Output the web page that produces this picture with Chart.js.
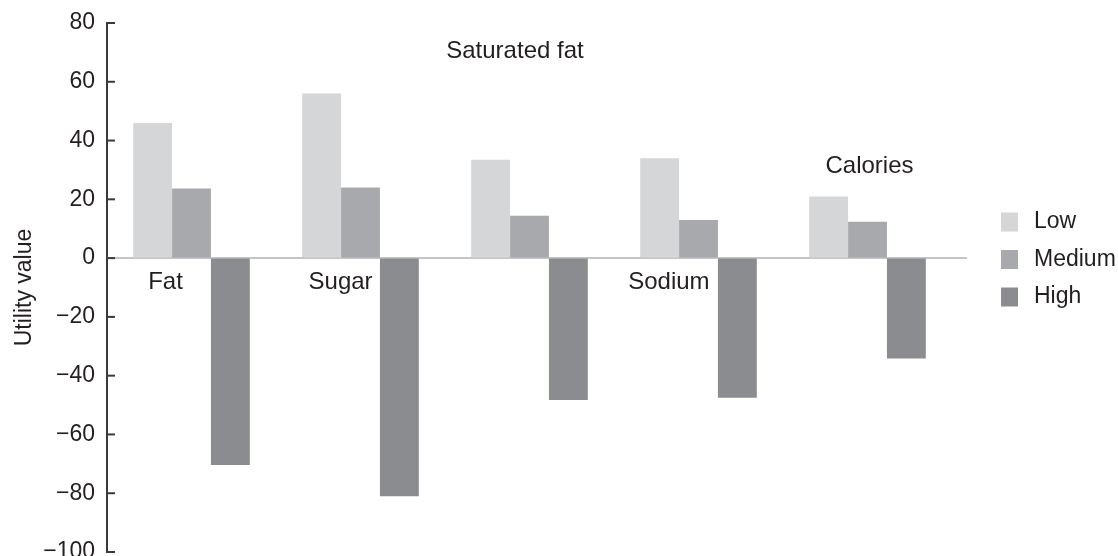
<!DOCTYPE html>
<html lang="en">
    <head>
        <meta charset="UTF-8">
        <title>Utility value by nutrient level</title>
        <script src="https://cdn.jsdelivr.net/npm/chart.js"></script>
        <style>
            html, body { margin: 0; padding: 0; background: #fff; }
            .chart-container { width: 1118px; height: 556px; position: relative; }
        </style>
    </head>
    <body>
        <div class="chart-container">
            <canvas id="utilityChart"></canvas>
        </div>

        <script>
            // nutrients (category labels are drawn inside the plot, as in the figure)
            const nutrients = ['Fat', 'Sugar', 'Saturated fat', 'Sodium', 'Calories'];
            const levels = ['Low', 'Medium', 'High'];

            const lowValues = [46, 56, 33.5, 34, 21];
            const mediumValues = [23.7, 24, 14.4, 13, 12.4];
            const highValues = [-70.4, -81, -48.3, -47.5, -34.2];

            const yTicks = [80, 60, 40, 20, 0, -20, -40, -60, -80, -100];

            // where each nutrient name sits: offset from the group centre (in categories) and a y value
            const nameOffsetX = [-0.154, -0.118, -0.086, -0.175, 0.012];
            const nameValueY = [-8.4, -8.4, 70.2, -8.4, 31.1];

            const levelColors = ['#d5d6d8', '#a7a9ac', '#8b8c90'];
            const textColor = '#231f20';
            const fontFamily = '"Liberation Sans", Arial, Helvetica, sans-serif';

            const seriesValues = [lowValues, mediumValues, highValues];

            // zero line, inward tick marks, nutrient names and legend
            const figureExtras = {
                id: 'figureExtras',
                beforeDatasetsDraw(chart) {
                    const { ctx, chartArea, scales: { y } } = chart;
                    const y0 = y.getPixelForValue(0);
                    ctx.save();
                    ctx.strokeStyle = '#c4c5c7';
                    ctx.lineWidth = 2;
                    ctx.beginPath();
                    ctx.moveTo(chartArea.left, y0);
                    ctx.lineTo(chartArea.right + 15, y0);
                    ctx.stroke();
                    ctx.restore();
                },
                afterDatasetsDraw(chart) {
                    const { ctx, chartArea, scales: { x, y } } = chart;
                    ctx.save();

                    ctx.strokeStyle = '#3a3a3a';
                    ctx.lineWidth = 2;
                    y.ticks.forEach(t => {
                        const py = y.getPixelForValue(t.value);
                        ctx.beginPath();
                        ctx.moveTo(chartArea.left, py);
                        ctx.lineTo(chartArea.left + 8, py);
                        ctx.stroke();
                    });

                    ctx.fillStyle = textColor;
                    ctx.font = '24px ' + fontFamily;
                    ctx.textAlign = 'center';
                    ctx.textBaseline = 'middle';
                    const catWidth = x.getPixelForValue(1) - x.getPixelForValue(0);
                    nutrients.forEach((name, i) => {
                        const px = x.getPixelForValue(i) + nameOffsetX[i] * catWidth;
                        const py = y.getPixelForValue(nameValueY[i]);
                        ctx.fillText(name, px, py);
                    });

                    ctx.font = '23px ' + fontFamily;
                    ctx.textAlign = 'left';
                    const legendX = chart.width - 117;
                    chart.data.datasets.forEach((ds, i) => {
                        const cy = 222 + i * 37.5;
                        ctx.fillStyle = ds.backgroundColor;
                        ctx.fillRect(legendX, cy - 9.5, 17, 19);
                        ctx.fillStyle = textColor;
                        ctx.fillText(ds.label, legendX + 33, cy);
                    });

                    ctx.restore();
                }
            };

            const ctx = document.getElementById('utilityChart').getContext('2d');

            const chart = new Chart(ctx, {
                type: 'bar',
                data: {
                    labels: nutrients,
                    datasets: levels.map((lvl, i) => ({
                        label: lvl,
                        data: seriesValues[i],
                        backgroundColor: levelColors[i],
                        borderWidth: 0,
                        categoryPercentage: 0.69,
                        barPercentage: 1.0
                    }))
                },
                options: {
                    responsive: true,
                    maintainAspectRatio: false,
                    animation: false,
                    layout: {
                        padding: { top: 23, bottom: 4, left: 0, right: 166 }
                    },
                    scales: {
                        x: {
                            display: false
                        },
                        y: {
                            min: -100,
                            max: 80,
                            afterBuildTicks(scale) {
                                scale.ticks = yTicks.map(v => ({ value: v }));
                            },
                            afterFit(scale) {
                                scale.width = 107;
                                scale.paddingTop = 0;
                                scale.paddingBottom = 0;
                            },
                            grid: {
                                drawOnChartArea: false,
                                drawTicks: false
                            },
                            border: {
                                display: true,
                                color: '#3a3a3a',
                                width: 2
                            },
                            ticks: {
                                padding: 12,
                                color: textColor,
                                font: { family: fontFamily, size: 23 },
                                callback: v => String(v).replace('-', '\u2212')
                            },
                            title: {
                                display: true,
                                text: 'Utility value',
                                color: textColor,
                                font: { family: fontFamily, size: 23 },
                                padding: { top: 11, bottom: 0 }
                            }
                        }
                    },
                    plugins: {
                        legend: { display: false },
                        tooltip: { enabled: false }
                    }
                },
                plugins: [figureExtras]
            });
        </script>
    </body>
</html>
